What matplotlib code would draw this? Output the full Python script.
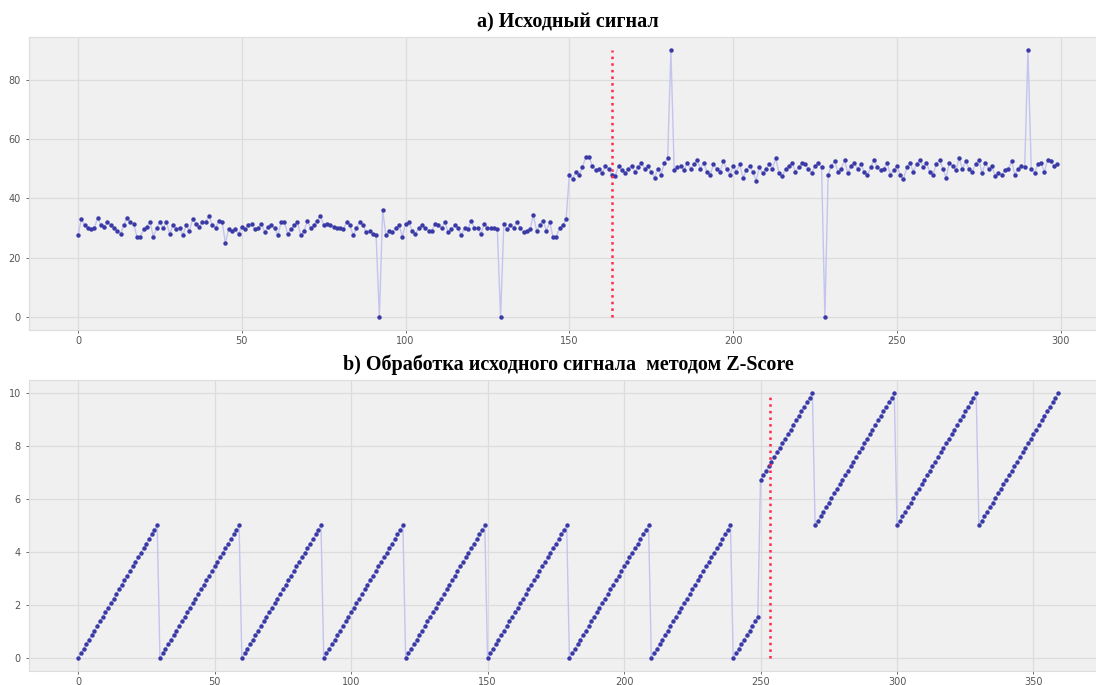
import numpy as np
import matplotlib
matplotlib.use('Agg')
import matplotlib.pyplot as plt

# исходный сигнал: 300 отсчётов, ступенька ~30 -> ~50 и выбросы
raw_signal = [
    27.5, 33, 31, 30, 29.5, 30, 33.5, 31, 30.5, 32,
    31, 30, 29, 28, 31, 33.5, 32, 31.5, 27, 27,
    29.5, 30.5, 32, 27, 30, 32, 30, 32, 28, 31,
    29.5, 30, 27.5, 31, 29, 33, 31.5, 30.5, 32, 32,
    34, 31, 30, 32.5, 32, 25, 29.5, 29, 29.5, 28,
    30.5, 29.5, 31, 31.5, 29.5, 30, 31.5, 28.5, 30.5, 31,
    30, 27.5, 32, 32, 28, 29.5, 31, 32, 27.5, 29,
    32.5, 30, 31, 32.5, 34, 31, 31.5, 31, 30.5, 30,
    30, 29.5, 32, 31, 27.5, 30, 32, 31, 28.5, 29,
    28, 27.5, 0, 36, 27.5, 29, 28.5, 30, 31, 27,
    31.5, 32, 29, 28, 30, 31, 30, 29, 29, 31.5,
    31, 30, 32, 28.5, 29.5, 31, 30, 27.5, 30, 29.5,
    32.5, 30, 30, 28, 31.5, 30, 30, 30, 29.5, 0,
    31.5, 29.5, 31, 30, 32, 30, 28.5, 29, 29.5, 34.5,
    29, 31, 32.5, 29, 32, 27, 27, 30, 31, 33,
    48, 46.5, 49, 48, 50.5, 54, 54, 51, 49.5, 50,
    48.5, 51, 50, 48, 47.5, 51, 49.5, 48.5, 50, 51,
    49, 50.5, 52, 50, 51, 49, 47, 50, 48, 52,
    53.5, 90, 49.5, 50.5, 51, 49.5, 52, 50, 51.5, 53,
    50, 52, 49, 48, 51.5, 50, 49, 52.5, 50, 48,
    51, 49, 51.5, 47, 49.5, 51, 49, 46, 50.5, 48.5,
    50, 51.5, 50, 53.5, 48.5, 47.5, 50, 51, 52, 49,
    50.5, 52, 51.5, 50, 48.5, 51, 52, 50.5, 0, 48,
    51, 52.5, 49, 50, 53, 48.5, 51, 52, 50, 51.5,
    49, 48, 50.5, 53, 50.5, 49.5, 50, 52, 48, 49.5,
    51, 48, 46.5, 50.5, 52, 49, 51.5, 53, 50.5, 52,
    49, 48, 51.5, 53, 50, 47, 52, 51, 49.5, 53.5,
    50, 52.5, 50, 49, 51.5, 53, 48.5, 52, 50, 51,
    47.5, 48.5, 48, 49.5, 50, 52.5, 48, 50, 51, 50.5,
    90, 50, 48.5, 51.5, 52, 49, 53, 52.5, 51, 51.5,
]

# результат обработки методом Z-Score: 360 отсчётов
zscore_signal = [
    0.00, 0.17, 0.34, 0.52, 0.69, 0.86, 1.03, 1.21, 1.38, 1.55, 1.72, 1.90, 2.07, 2.24, 2.41, 2.59, 2.76, 2.93, 3.10, 3.28, 3.45, 3.62, 3.79, 3.97, 4.14, 4.31, 4.48, 4.66, 4.83, 5.00,
    0.00, 0.17, 0.34, 0.52, 0.69, 0.86, 1.03, 1.21, 1.38, 1.55, 1.72, 1.90, 2.07, 2.24, 2.41, 2.59, 2.76, 2.93, 3.10, 3.28, 3.45, 3.62, 3.79, 3.97, 4.14, 4.31, 4.48, 4.66, 4.83, 5.00,
    0.00, 0.17, 0.34, 0.52, 0.69, 0.86, 1.03, 1.21, 1.38, 1.55, 1.72, 1.90, 2.07, 2.24, 2.41, 2.59, 2.76, 2.93, 3.10, 3.28, 3.45, 3.62, 3.79, 3.97, 4.14, 4.31, 4.48, 4.66, 4.83, 5.00,
    0.00, 0.17, 0.34, 0.52, 0.69, 0.86, 1.03, 1.21, 1.38, 1.55, 1.72, 1.90, 2.07, 2.24, 2.41, 2.59, 2.76, 2.93, 3.10, 3.28, 3.45, 3.62, 3.79, 3.97, 4.14, 4.31, 4.48, 4.66, 4.83, 5.00,
    0.00, 0.17, 0.34, 0.52, 0.69, 0.86, 1.03, 1.21, 1.38, 1.55, 1.72, 1.90, 2.07, 2.24, 2.41, 2.59, 2.76, 2.93, 3.10, 3.28, 3.45, 3.62, 3.79, 3.97, 4.14, 4.31, 4.48, 4.66, 4.83, 5.00,
    0.00, 0.17, 0.34, 0.52, 0.69, 0.86, 1.03, 1.21, 1.38, 1.55, 1.72, 1.90, 2.07, 2.24, 2.41, 2.59, 2.76, 2.93, 3.10, 3.28, 3.45, 3.62, 3.79, 3.97, 4.14, 4.31, 4.48, 4.66, 4.83, 5.00,
    0.00, 0.17, 0.34, 0.52, 0.69, 0.86, 1.03, 1.21, 1.38, 1.55, 1.72, 1.90, 2.07, 2.24, 2.41, 2.59, 2.76, 2.93, 3.10, 3.28, 3.45, 3.62, 3.79, 3.97, 4.14, 4.31, 4.48, 4.66, 4.83, 5.00,
    0.00, 0.17, 0.34, 0.52, 0.69, 0.86, 1.03, 1.21, 1.38, 1.55, 1.72, 1.90, 2.07, 2.24, 2.41, 2.59, 2.76, 2.93, 3.10, 3.28, 3.45, 3.62, 3.79, 3.97, 4.14, 4.31, 4.48, 4.66, 4.83, 5.00,
    0.00, 0.17, 0.34, 0.52, 0.69, 0.86, 1.03, 1.21, 1.38, 1.55,
    6.72, 6.90, 7.07, 7.24, 7.41, 7.59, 7.76, 7.93, 8.10, 8.28, 8.45, 8.62, 8.79, 8.97, 9.14, 9.31, 9.48, 9.66, 9.83, 10.00,
    5.00, 5.17, 5.34, 5.52, 5.69, 5.86, 6.03, 6.21, 6.38, 6.55, 6.72, 6.90, 7.07, 7.24, 7.41, 7.59, 7.76, 7.93, 8.10, 8.28, 8.45, 8.62, 8.79, 8.97, 9.14, 9.31, 9.48, 9.66, 9.83, 10.00,
    5.00, 5.17, 5.34, 5.52, 5.69, 5.86, 6.03, 6.21, 6.38, 6.55, 6.72, 6.90, 7.07, 7.24, 7.41, 7.59, 7.76, 7.93, 8.10, 8.28, 8.45, 8.62, 8.79, 8.97, 9.14, 9.31, 9.48, 9.66, 9.83, 10.00,
    5.00, 5.17, 5.34, 5.52, 5.69, 5.86, 6.03, 6.21, 6.38, 6.55, 6.72, 6.90, 7.07, 7.24, 7.41, 7.59, 7.76, 7.93, 8.10, 8.28, 8.45, 8.62, 8.79, 8.97, 9.14, 9.31, 9.48, 9.66, 9.83, 10.00,
]

# точки смены режима (красная пунктирная линия)
change_raw = 163
change_zscore = 253.5

titles = ['а) Исходный сигнал', 'b) Обработка исходного сигнала  методом Z-Score']

point_color = '#3a3aa6'
line_color = '#c4c4ee'
red = '#ff2a4a'

fig = plt.figure(figsize=(10.96, 6.85), dpi=100)
ax1 = fig.add_axes([0.0265, 0.518, 0.983, 0.428])
ax2 = fig.add_axes([0.0265, 0.0204, 0.9836, 0.425])

for ax, vals, xc, title in [(ax1, raw_signal, change_raw, titles[0]),
                            (ax2, zscore_signal, change_zscore, titles[1])]:
    x = np.arange(len(vals))
    ax.plot(x, vals, '-', color=line_color, linewidth=1.0, zorder=2)
    ax.plot(x, vals, 'o', color=point_color, markersize=3.2, markeredgewidth=0, zorder=3)
    ax.vlines(xc, 0, max(vals), colors=red, linestyles=':', linewidth=1.8, zorder=4)
    ax.set_facecolor('#f0f0f0')
    ax.grid(True, color='#dcdcdc', linewidth=0.9)
    ax.set_axisbelow(True)
    for s in ax.spines.values():
        s.set_color('#dddddd')
        s.set_linewidth(0.8)
    ax.tick_params(labelsize=7, colors='#555555', length=2.5, width=0.6)
    ax.tick_params(axis='x', pad=1.5)
    ax.set_title(title, fontsize=14.5, fontweight='bold', family='Liberation Serif', pad=7)

ax1.set_xticks(np.arange(0, 301, 50))
ax1.set_yticks(np.arange(0, 81, 20))
ax2.set_xticks(np.arange(0, 351, 50))
ax2.set_yticks(np.arange(0, 11, 2))

fig.savefig('out.png', dpi=100)
